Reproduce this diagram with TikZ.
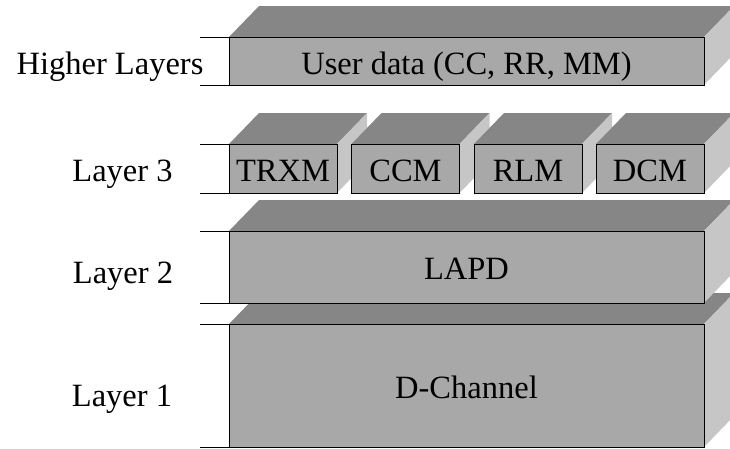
\documentclass[tikz,border=0pt]{standalone}
\usepackage{fontspec}
\setmainfont{Liberation Serif}
\definecolor{facefront}{RGB}{168,168,168}
\definecolor{facetop}{RGB}{134,134,134}
\definecolor{faceside}{RGB}{198,198,198}

% top and side faces of a block, then the outline of its front face
\newcommand\blockfaces[1]{%
  \fill[topface] (#1.north west) -- ++(30,-31) -- ([shift={(30,-31)}]#1.north east) -- (#1.north east) -- cycle;
  \fill[sideface] (#1.north east) -- ++(30,-31) -- ([shift={(30,-31)}]#1.south east) -- (#1.south east) -- cycle;
  \draw[edge] (#1.north west) rectangle (#1.south east);
}

\begin{document}
\begin{tikzpicture}[x=1pt,y=-1pt,
  frontface/.style={fill=facefront, inner sep=0pt, outer sep=0pt, anchor=north west},
  topface/.style={fill=facetop},
  sideface/.style={fill=faceside},
  edge/.style={draw=black, line width=1pt},
  rule/.style={draw=black, line width=1pt},
  txt/.style={font=\fontsize{32.5}{39}\selectfont, anchor=base, inner sep=0pt}]
\clip (0,0) rectangle (730,448);

% Layer 1
\node[frontface, minimum width=475pt, minimum height=123pt] (phy) at (229,324) {};
\blockfaces{phy}
% Layer 2
\node[frontface, minimum width=475pt, minimum height=72pt] (lapd) at (229,231) {};
\blockfaces{lapd}
% Layer 3 modules
\node[frontface, minimum width=108pt, minimum height=49pt] (trxm) at (229,144) {};
\blockfaces{trxm}
\node[frontface, minimum width=108pt, minimum height=49pt] (ccm) at (351.5,144) {};
\blockfaces{ccm}
\node[frontface, minimum width=108pt, minimum height=49pt] (rlm) at (474,144) {};
\blockfaces{rlm}
\node[frontface, minimum width=108pt, minimum height=49pt] (dcm) at (596,144) {};
\blockfaces{dcm}
% Higher layers
\node[frontface, minimum width=475pt, minimum height=48pt] (user) at (229,37) {};
\blockfaces{user}

% layer boundary rules on the left
\coordinate (hTop) at (200,37);
\coordinate (hBot) at (200,85);
\coordinate (l3Top) at (200,144);
\coordinate (l3Bot) at (200,193);
\coordinate (l2Top) at (200,231);
\coordinate (l2Bot) at (200,303);
\coordinate (l1Top) at (200,324);
\coordinate (l1Bot) at (200,447);
\draw[rule] (hTop) -- (user.north west);
\draw[rule] (hBot) -- (user.south west);
\draw[rule] (l3Top) -- (trxm.north west);
\draw[rule] (l3Bot) -- (trxm.south west);
\draw[rule] (l2Top) -- (lapd.north west);
\draw[rule] (l2Bot) -- (lapd.south west);
\draw[rule] (l1Top) -- (phy.north west);
\draw[rule] (l1Bot) -- (phy.south west);

% texts
\node[txt] (tUser) at (466.5,74.5) {User data (CC, RR, MM)};
\node[txt] (tHigher) at (110,74) {Higher Layers};
\node[txt] (tL3) at (122.5,181.5) {Layer 3};
\node[txt] (tTrxm) at (283,181.5) {TRXM};
\node[txt] (tCcm) at (405.5,181.5) {CCM};
\node[txt] (tRlm) at (528,181.5) {RLM};
\node[txt] (tDcm) at (650,181.5) {DCM};
\node[txt] (tL2) at (123,283.3) {Layer 2};
\node[txt] (tLapd) at (466.5,279.3) {LAPD};
\node[txt] (tL1) at (122,406) {Layer 1};
\node[txt] (tPhy) at (466.5,398.7) {D-Channel};
\end{tikzpicture}
\end{document}
